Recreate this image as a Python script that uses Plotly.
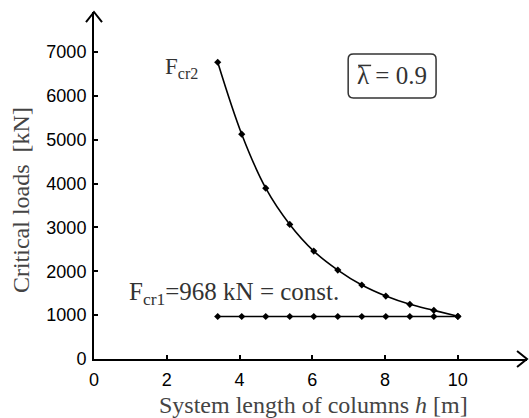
import plotly.graph_objects as go

h = [3.4, 4.06, 4.72, 5.38, 6.04, 6.7, 7.36, 8.02, 8.68, 9.34, 10.0]
fcr2 = [6765, 5125, 3895, 3068, 2460, 2027, 1686, 1435, 1246, 1109, 973]
fcr1 = [968] * len(h)
x_ticks = [0, 2, 4, 6, 8, 10]
y_ticks = [0, 1000, 2000, 3000, 4000, 5000, 6000, 7000]
x_max = 11.9
y_max = 7910

serif = "Liberation Serif, Times New Roman, serif"
sans = "Liberation Sans, Arial, sans-serif"

fig = go.Figure()
fig.add_trace(go.Scatter(x=h, y=fcr2, mode="lines+markers", line=dict(color="black", width=1.6, shape="spline"),
                         marker=dict(symbol="diamond", size=5.5, color="black"), cliponaxis=False))
fig.add_trace(go.Scatter(x=h, y=fcr1, mode="lines+markers", line=dict(color="black", width=1.6),
                         marker=dict(symbol="diamond", size=5.5, color="black"), cliponaxis=False))

axis_font = dict(family=sans, size=18, color="black")
fig.update_layout(
    width=529, height=418, showlegend=False,
    plot_bgcolor="white", paper_bgcolor="white",
    margin=dict(l=94, r=2, t=12, b=59, autoexpand=False),
    xaxis=dict(range=[0, x_max], tickvals=x_ticks, showgrid=False, zeroline=False, automargin=False,
               showline=True, linecolor="black", linewidth=2, ticks="inside", ticklen=4,
               tickcolor="black", tickwidth=1.5, tickfont=axis_font, ticklabelstandoff=3),
    yaxis=dict(range=[0, y_max], tickvals=y_ticks, showgrid=False, zeroline=False, automargin=False,
               showline=True, linecolor="black", linewidth=2, ticks="inside", ticklen=4,
               tickcolor="black", tickwidth=1.5, tickfont=axis_font, ticklabelstandoff=2),
)

# axis titles
fig.add_annotation(x=0.508, y=0, xref="paper", yref="paper", yanchor="middle", yshift=-46,
                   text="System length of columns <i>h</i> [m]", showarrow=False,
                   font=dict(family=serif, size=24, color="#444"))
fig.add_annotation(x=0, y=0.458, xref="paper", yref="paper", xanchor="center", xshift=-73,
                   text="Critical loads  [kN]", showarrow=False, textangle=-90,
                   font=dict(family=serif, size=24, color="#444"))

# arrowheads
fig.add_shape(type="path", xref="x domain", yref="y domain",
              path="M -0.0185 0.971 L 0 1 L 0.0185 0.971", line=dict(color="black", width=2))
fig.add_shape(type="path", xref="x domain", yref="y domain",
              path="M 0.977 0.023 L 1 0 L 0.977 -0.023", line=dict(color="black", width=2))

fig.add_annotation(x=h[0], y=fcr2[0], xref="x", yref="y", text="F<sub>cr2</sub>", showarrow=False,
                   xanchor="right", yanchor="middle", xshift=-18, yshift=-6,
                   font=dict(family=serif, size=23, color="#333"))
fig.add_annotation(x=0.907, y=fcr1[0], xref="x", yref="y", text="F<sub>cr1</sub>=968 kN = const.",
                   showarrow=False, xanchor="left", yanchor="bottom", yshift=6,
                   font=dict(family=serif, size=25, color="#333"))
fig.add_annotation(x=0.688, y=0.816, xref="paper", yref="paper",
                   text="λ = 0.9",
                   showarrow=False, xanchor="center", yanchor="middle",
                   font=dict(family=serif, size=25, color="#333"))
# overline on lambda
fig.add_shape(type="line", xref="x domain", yref="y domain", x0=0.610, x1=0.640, y0=0.846, y1=0.846,
              line=dict(color="#333", width=1.5))
# rounded box
x0, x1, y0, y1 = 0.587, 0.790, 0.752, 0.879
rx, ry = 0.012, 0.015
fig.add_shape(type="path", xref="x domain", yref="y domain",
              path=f"M {x0+rx} {y0} L {x1-rx} {y0} Q {x1} {y0} {x1} {y0+ry} L {x1} {y1-ry} Q {x1} {y1} {x1-rx} {y1} "
                   f"L {x0+rx} {y1} Q {x0} {y1} {x0} {y1-ry} L {x0} {y0+ry} Q {x0} {y0} {x0+rx} {y0} Z",
              line=dict(color="#333", width=1.5))

fig.write_html("out.html", config={"displayModeBar": False},
               post_script="document.body.style.margin='0';")
